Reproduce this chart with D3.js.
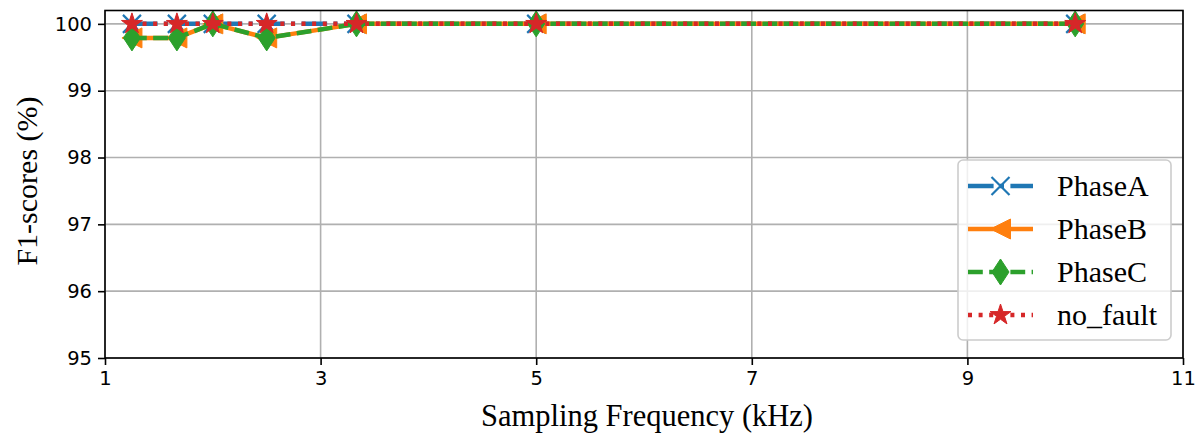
<!DOCTYPE html>
<html>
<head>
<meta charset="utf-8">
<script src="https://cdn.jsdelivr.net/npm/d3@7"></script>
<style>
  html, body { margin: 0; padding: 0; background: #fff; }
  svg { display: block; }
</style>
</head>
<body>
<svg id="chart" width="1204" height="435"></svg>
<script>
// Sampling frequencies (kHz) and F1-scores (%) per class
const freqs = [1.25, 1.667, 2, 2.5, 3.333, 5, 10];
const phaseA = [100, 100, 100, 100, 100, 100, 100];
const phaseB = [99.79, 99.79, 100, 99.79, 100, 100, 100];
const phaseC = [99.79, 99.79, 100, 99.79, 100, 100, 100];
const noFault = [100, 100, 100, 100, 100, 100, 100];
const seriesNames = ["PhaseA", "PhaseB", "PhaseC", "no_fault"];
const xTicks = [1, 3, 5, 7, 9, 11];
const yTicks = [95, 96, 97, 98, 99, 100];

const W = 1204, H = 435;
const m = { left: 105, right: 1183, top: 10.5, bottom: 358 };

const svg = d3.select("#chart");
const x = d3.scaleLinear().domain([1, 11]).range([m.left, m.right]);
const y = d3.scaleLinear().domain([95, 100.2]).range([m.bottom, m.top]);

const series = [
  { name: seriesNames[0], values: phaseA, color: "#1f77b4", dash: "25.6,6.4,4,6.4", marker: "x" },
  { name: seriesNames[1], values: phaseB, color: "#ff7f0e", dash: null, marker: "tri" },
  { name: seriesNames[2], values: phaseC, color: "#2ca02c", dash: "14.8,6.4", marker: "diamond" },
  { name: seriesNames[3], values: noFault, color: "#d62728", dash: "4,6.6", marker: "star" }
];
const LW = 4.5;
const serif = "'Liberation Serif', 'Times New Roman', serif";

// clip region for the plotting area
svg.append("defs").append("clipPath").attr("id", "plotclip")
  .append("rect").attr("x", m.left).attr("y", m.top)
  .attr("width", m.right - m.left).attr("height", m.bottom - m.top);

// grid
const grid = svg.append("g");
grid.selectAll("line.vx").data(xTicks).join("line")
  .attr("x1", d => x(d)).attr("x2", d => x(d))
  .attr("y1", m.top).attr("y2", m.bottom)
  .attr("stroke", "#b0b0b0").attr("stroke-width", 1.6);
grid.selectAll("line.hy").data(yTicks).join("line")
  .attr("x1", m.left).attr("x2", m.right)
  .attr("y1", d => y(d)).attr("y2", d => y(d))
  .attr("stroke", "#b0b0b0").attr("stroke-width", 1.6);

// marker shapes, centred on 0,0
function markerPath(type) {
  if (type === "x") {
    const s = 9;
    return `M${-s},${-s}L${s},${s}M${-s},${s}L${s},${-s}`;
  }
  if (type === "tri") {
    const s = 10;
    return `M${-s},0L${s},${-s}L${s},${s}Z`;
  }
  if (type === "diamond") {
    const w = 8.5, h = 13;
    return `M0,${-h}L${w},0L0,${h}L${-w},0Z`;
  }
  if (type === "star") {
    const R = 11, r = R * 0.382;
    let p = "";
    for (let i = 0; i < 10; i++) {
      const rad = i % 2 === 0 ? R : r;
      const a = -Math.PI / 2 + i * Math.PI / 5;
      p += (i === 0 ? "M" : "L") + (rad * Math.cos(a)).toFixed(2) + "," + (rad * Math.sin(a)).toFixed(2);
    }
    return p + "Z";
  }
  return "";
}

function drawMarker(g, type, color, cx, cy) {
  const el = g.append("path").attr("d", markerPath(type))
    .attr("transform", `translate(${cx},${cy})`);
  if (type === "x") {
    el.attr("fill", "none").attr("stroke", color).attr("stroke-width", 2.2);
  } else {
    el.attr("fill", color).attr("stroke", color).attr("stroke-width", 1);
  }
}

// lines and markers
const plot = svg.append("g").attr("clip-path", "url(#plotclip)");
const lineGen = d3.line().x(d => x(d[0])).y(d => y(d[1]));
series.forEach(s => {
  const pts = freqs.map((f, i) => [f, s.values[i]]);
  const g = plot.append("g");
  const path = g.append("path").datum(pts).attr("d", lineGen)
    .attr("fill", "none").attr("stroke", s.color).attr("stroke-width", LW)
    .attr("stroke-linejoin", "round");
  if (s.dash) path.attr("stroke-dasharray", s.dash);
  pts.forEach(p => drawMarker(g, s.marker, s.color, x(p[0]), y(p[1])));
});

// axes
const xAxis = d3.axisBottom(x).tickValues(xTicks).tickSize(7).tickPadding(6).tickFormat(d3.format("d"));
const yAxis = d3.axisLeft(y).tickValues(yTicks).tickSize(7).tickPadding(6).tickFormat(d3.format("d"));
const gx = svg.append("g").attr("transform", `translate(0,${m.bottom})`).call(xAxis);
const gy = svg.append("g").attr("transform", `translate(${m.left},0)`).call(yAxis);
[gx, gy].forEach(g => {
  g.select(".domain").remove();
  g.selectAll(".tick line").attr("stroke", "#000").attr("stroke-width", 1.6);
  g.selectAll(".tick text").attr("fill", "#000")
    .style("font-family", "'DejaVu Sans', sans-serif").style("font-size", "19.5px");
});

// frame
svg.append("rect").attr("x", m.left).attr("y", m.top)
  .attr("width", m.right - m.left).attr("height", m.bottom - m.top)
  .attr("fill", "none").attr("stroke", "#000").attr("stroke-width", 1.6);

// axis titles
svg.append("text").attr("x", 647).attr("y", 426)
  .attr("text-anchor", "middle")
  .style("font-family", serif).style("font-size", "30.5px")
  .text("Sampling Frequency (kHz)");
svg.append("text").attr("transform", "translate(37,181) rotate(-90)")
  .attr("text-anchor", "middle")
  .style("font-family", serif).style("font-size", "30px")
  .text("F1-scores (%)");

// legend
const lg = svg.append("g");
lg.append("rect").attr("x", 958).attr("y", 160).attr("width", 213).attr("height", 180)
  .attr("rx", 5).attr("fill", "#fff").attr("fill-opacity", 0.8)
  .attr("stroke", "#cccccc").attr("stroke-width", 1.6);
const rowY = d3.scaleLinear().domain([0, 3]).range([186, 315]);
series.forEach((s, i) => {
  const cy = rowY(i);
  const ln = lg.append("line").attr("x1", 968).attr("x2", 1033).attr("y1", cy).attr("y2", cy)
    .attr("stroke", s.color).attr("stroke-width", LW);
  if (s.dash) ln.attr("stroke-dasharray", s.dash);
  drawMarker(lg, s.marker, s.color, 1000.5, cy);
  lg.append("text").attr("x", 1057).attr("y", cy + 10)
    .style("font-family", serif).style("font-size", "30px")
    .text(s.name);
});
</script>
</body>
</html>
